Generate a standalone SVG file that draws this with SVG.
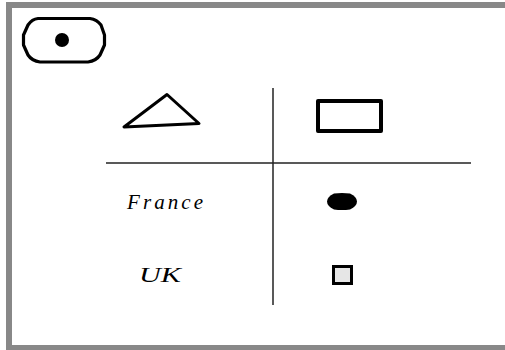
<svg xmlns="http://www.w3.org/2000/svg" width="505" height="350" viewBox="0 0 505 350">
  <style>
    .shape { stroke: #000; fill: none; stroke-linejoin: round; }
    .lbl { font-family: "Liberation Serif", "Times New Roman", serif; font-style: italic; font-size: 21px; fill: #000; }
    .grid { stroke: #222; stroke-width: 1.5; }
  </style>
  <rect x="0" y="0" width="505" height="350" fill="#fff"/>
  <rect id="frame" x="9" y="5" width="502" height="343" fill="none" stroke="#888" stroke-width="6"/>
  <g id="legend">
    <path class="shape" stroke-width="3.2" d="M38,18.5 L90,18.5 Q97,19.5 101,25 L104.5,35 L104.5,45 L100,55 Q96,61 88,62 L40,62 Q32,61 28,55 L23.5,45 L23.5,35 L28,25 Q32,19 38,18.5 Z"/>
    <circle cx="62" cy="40" r="7" fill="#000"/>
  </g>
  <g id="header-triangle">
    <polygon class="shape" stroke-width="3" points="124,127 167,94.5 199,123.5"/>
  </g>
  <g id="header-rect">
    <rect class="shape" stroke-width="4" x="318" y="101" width="63" height="30"/>
  </g>
  <g id="row-france">
    <text class="lbl" x="127" y="209" textLength="76" lengthAdjust="spacing">France</text>
  </g>
  <g id="row-uk">
    <text class="lbl" x="139" y="282" textLength="42" lengthAdjust="spacingAndGlyphs">UK</text>
  </g>
  <g id="cell-france">
    <path d="M334,193.5 Q342,192.5 350,193.5 Q357,197 357,201.5 Q357,206 350,209.5 Q342,210.5 334,209.5 Q327,206 327,201.5 Q327,197 334,193.5 Z" fill="#000"/>
  </g>
  <g id="cell-uk">
    <rect x="333.5" y="266.5" width="18" height="17" fill="#e6e6e6" stroke="#000" stroke-width="3"/>
  </g>
  <g id="connectors">
    <line class="grid" x1="106" y1="163" x2="471" y2="163"/>
    <line class="grid" x1="273" y1="88" x2="273" y2="305"/>
  </g>
</svg>
